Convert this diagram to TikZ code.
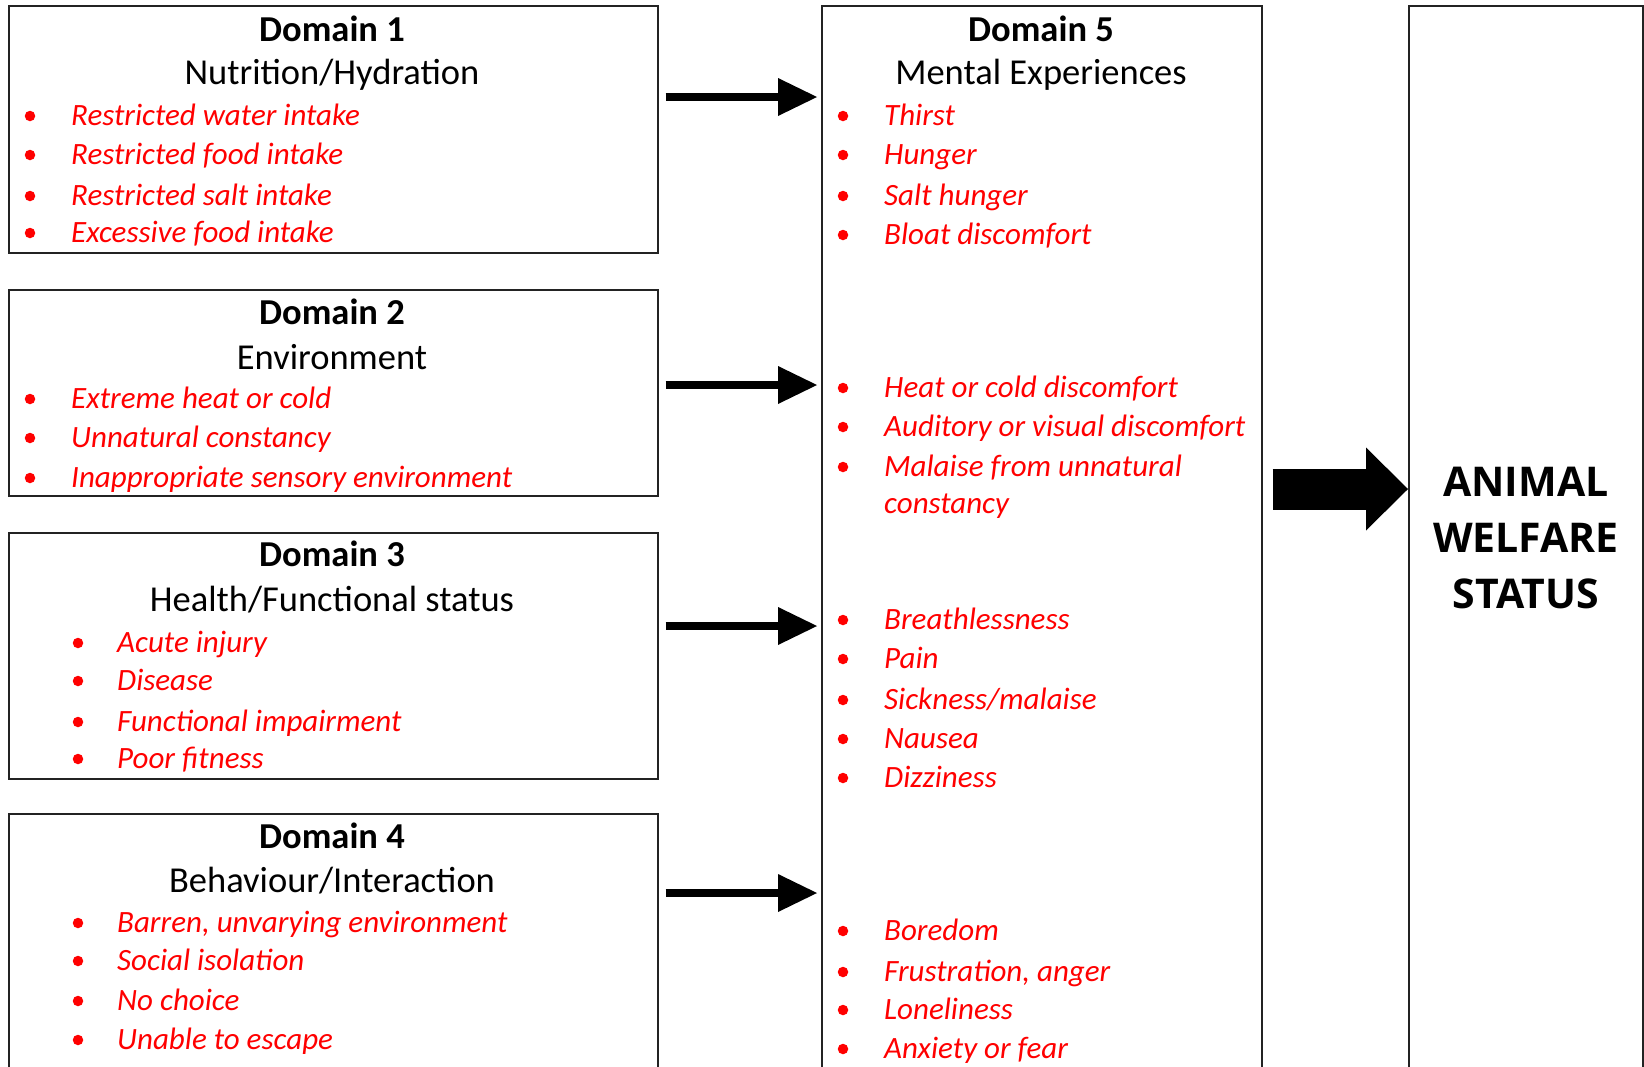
\documentclass[tikz,border=0pt]{standalone}
\usepackage{fontspec}
\setmainfont{Carlito}
\newfontfamily\statusfont{Open Sans}
\usetikzlibrary{arrows.meta}
\definecolor{itemred}{RGB}{255,0,0}
\definecolor{frame}{RGB}{35,35,35}

\begin{document}
\begin{tikzpicture}[x=1pt,y=-1pt,
  panel/.style={draw=frame, line width=1.5pt, inner sep=0pt, anchor=north west},
  dhead/.style={anchor=base, inner sep=0pt, font=\fontsize{36.5}{40}\selectfont\bfseries},
  dsub/.style={anchor=base, inner sep=0pt, font=\fontsize{36.5}{40}\selectfont},
  item/.style={anchor=base west, inner sep=0pt, text=itemred, font=\fontsize{31}{36}\selectfont\itshape},
  dot/.style={circle, fill=itemred, inner sep=0pt, minimum size=10.5pt},
  feed/.style={line width=7.5pt, -{Triangle[length=39pt,width=38pt,line width=0pt]}},
  bigfeed/.style={line width=41pt, -{Triangle[length=42pt,width=83pt,line width=0pt]}},
  status/.style={align=center, inner sep=0pt, font=\statusfont\fontsize{41}{56}\selectfont\bfseries}
]
\fill[white] (0,0) rectangle (1644,1066);
\clip (0,0) rectangle (1644,1066);

% boxes
\node[panel, minimum width=649pt, minimum height=247pt] (d1) at (8,5) {};
\node[panel, minimum width=649pt, minimum height=206pt] (d2) at (8,289) {};
\node[panel, minimum width=649pt, minimum height=246pt] (d3) at (8,532) {};
\node[panel, minimum width=649pt, minimum height=320pt] (d4) at (8,813) {};
\node[panel, minimum width=440pt, minimum height=1120pt] (d5) at (821,5) {};
\node[panel, minimum width=234pt, minimum height=1120pt] (aws) at (1408,5) {};

% headings
\node[dhead] (d1h) at (332,41) {Domain 1};
\node[dsub]  (d1s) at (332,84) {Nutrition/Hydration};
\node[dhead] (d2h) at (332,324) {Domain 2};
\node[dsub]  (d2s) at (332,369) {Environment};
\node[dhead] (d3h) at (332,566) {Domain 3};
\node[dsub]  (d3s) at (332,611) {Health/Functional status};
\node[dhead] (d4h) at (332,848) {Domain 4};
\node[dsub]  (d4s) at (332,892) {Behaviour/Interaction};
\node[dhead] (d5h) at (1041,41) {Domain 5};
\node[dsub]  (d5s) at (1041,84) {Mental Experiences};

% bullet lists (baselines)
\foreach \y/\t [count=\i] in {125/Restricted water intake, 164/Restricted food intake,
    205/Restricted salt intake, 242/Excessive food intake} {
  \node[dot] (d1b\i) at (30,\y-9) {};
  \node[item] (d1i\i) at (71,\y) {\t};
}
\foreach \y/\t [count=\i] in {408/Extreme heat or cold, 447/Unnatural constancy,
    487/Inappropriate sensory environment} {
  \node[dot] (d2b\i) at (30,\y-9) {};
  \node[item] (d2i\i) at (71,\y) {\t};
}
\foreach \y/\t [count=\i] in {652/Acute injury, 690/Disease,
    731/Functional impairment, 768/Poor fitness} {
  \node[dot] (d3b\i) at (78,\y-9) {};
  \node[item] (d3i\i) at (117,\y) {\t};
}
\foreach \y/\t [count=\i] in {932/{Barren, unvarying environment}, 970/Social isolation,
    1010/No choice, 1049/Unable to escape} {
  \node[dot] (d4b\i) at (78,\y-9) {};
  \node[item] (d4i\i) at (117,\y) {\t};
}
\foreach \y/\t [count=\i] in {125/Thirst, 164/Hunger, 205/Salt hunger, 244/Bloat discomfort,
    397/Heat or cold discomfort, 436/Auditory or visual discomfort,
    476/Malaise from unnatural,
    629/Breathlessness, 668/Pain, 709/{Sickness/malaise}, 748/Nausea, 787/Dizziness,
    940/Boredom, 981/{Frustration, anger}, 1019/Loneliness, 1058/Anxiety or fear} {
  \node[dot] (d5b\i) at (843,\y-9) {};
  \node[item] (d5i\i) at (884,\y) {\t};
}
\node[item] (d5i7c) at (884,513) {constancy};

% result box text
\node[status] (awst) at (1526,538) {ANIMAL\\WELFARE\\STATUS};

% arrow levels
\coordinate (l1) at (0,97);
\coordinate (l2) at (0,385);
\coordinate (l3) at (0,626);
\coordinate (l4) at (0,893);
\coordinate (lb) at (0,489);

\draw[feed, shorten <=7pt, shorten >=4pt] (d1.east |- l1) -- (d5.west |- l1);
\draw[feed, shorten <=7pt, shorten >=4pt] (d2.east |- l2) -- (d5.west |- l2);
\draw[feed, shorten <=7pt, shorten >=4pt] (d3.east |- l3) -- (d5.west |- l3);
\draw[feed, shorten <=7pt, shorten >=4pt] (d4.east |- l4) -- (d5.west |- l4);
\draw[bigfeed, shorten <=10pt] (d5.east |- lb) -- (aws.west |- lb);
\end{tikzpicture}
\end{document}
